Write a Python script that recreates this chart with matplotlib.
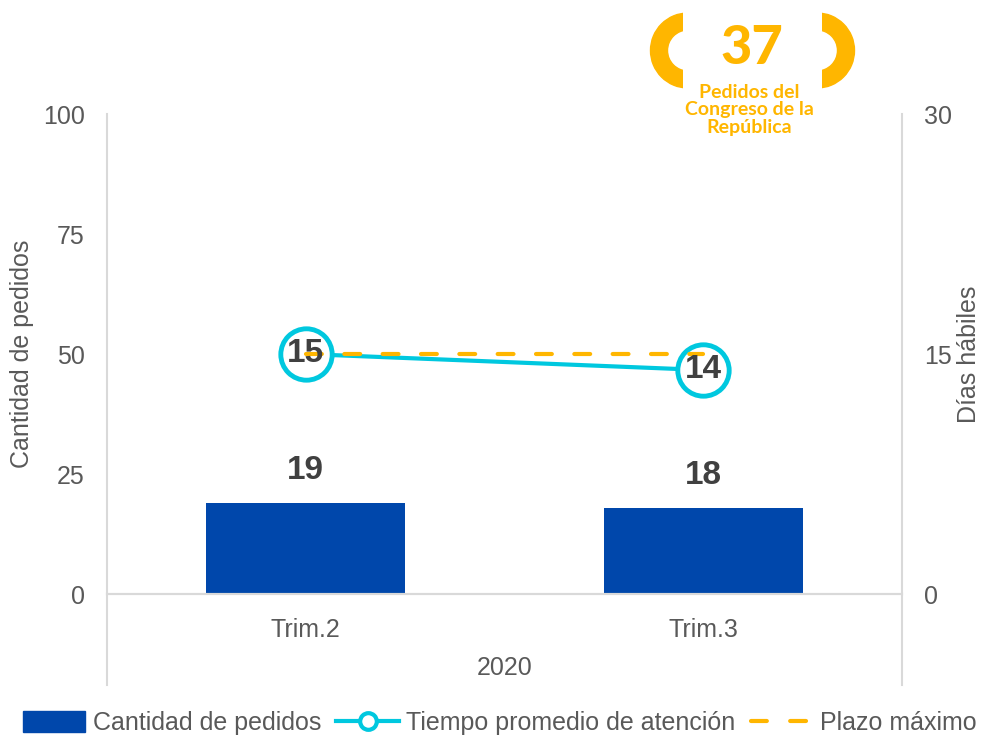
import matplotlib
matplotlib.use("Agg")
import matplotlib.pyplot as plt
from matplotlib.patches import Wedge, Rectangle, Patch
from matplotlib.lines import Line2D

plt.rcParams['font.family'] = ['Liberation Sans', 'DejaVu Sans']

categories = ["Trim.2", "Trim.3"]
year_label = "2020"
pedidos = [19, 18]
tiempo_promedio = [15, 14]
plazo_maximo = [15, 15]
total_pedidos = "37"
badge_text = "Pedidos del\nCongreso de la\nRepública"

BLUE = "#0047AB"
CYAN = "#00C8DF"
YELLOW = "#FFB600"
GRAY = "#595959"
DARK = "#404040"
AXIS = "#D9D9D9"
FS = 18

W, H = 982, 736
fig = plt.figure(figsize=(W / 100, H / 100), dpi=100)
ax = fig.add_axes([107 / W, 1 - 594 / H, (902 - 107) / W, (594 - 114) / H])
ax2 = ax.twinx()

x = list(range(len(categories)))
ax.bar(x, pedidos, width=0.5, color=BLUE, zorder=2)
ax.set_xlim(-0.5, len(categories) - 0.5)
ax.set_ylim(0, 100)
ax.set_yticks([0, 25, 50, 75, 100])
ax2.set_ylim(0, 30)
ax2.set_yticks([0, 15, 30])

for a in (ax, ax2):
    for s in ("top", "left", "right"):
        a.spines[s].set_visible(False)
    a.spines["bottom"].set_color(AXIS)
    a.spines["bottom"].set_linewidth(1.5)
    a.tick_params(axis="y", length=0, labelsize=FS, labelcolor=GRAY, pad=16)
    a.tick_params(axis="x", length=0)

ax.set_xticks(x)
ax.set_xticklabels(categories, fontsize=FS, color=GRAY)
ax.tick_params(axis="x", pad=17)

# category frame lines (extend below axis)
for xx in (0, 1):
    ax.plot([xx, xx], [-0.19, 1.0], transform=ax.transAxes, color=AXIS,
            lw=1.5, clip_on=False, zorder=1)
ax.text(0.5, (594 - 668) / 480, year_label, transform=ax.transAxes,
        ha="center", va="center", fontsize=FS, color=GRAY)

fig.text(22 / W, 1 - 354 / H, "Cantidad de pedidos", rotation=90,
         ha="center", va="center", fontsize=FS, color=GRAY)
fig.text(969 / W, 1 - 354 / H, "Días hábiles", rotation=90,
         ha="center", va="center", fontsize=FS, color=GRAY)

# lines on secondary axis
ax2.plot(x, tiempo_promedio, color=CYAN, lw=3, marker="o", markersize=37,
         markerfacecolor="white", markeredgecolor=CYAN, markeredgewidth=3.5,
         zorder=3)
ax2.plot(x, plazo_maximo, color=YELLOW, lw=3, linestyle=(0, (3.8, 5.4)),
         dash_capstyle="round", zorder=4)

for xi, v in zip(x, pedidos):
    ax.text(xi, v + 6.7, str(v), ha="center", va="center", fontsize=24,
            fontweight="bold", color=DARK, zorder=5)
for xi, v in zip(x, tiempo_promedio):
    ax2.text(xi, v, str(v), ha="center", va="center", fontsize=24,
             fontweight="bold", color=DARK, zorder=6)

# legend
handles = [
    Patch(facecolor=BLUE, edgecolor=BLUE),
    Line2D([0], [0], color=CYAN, lw=3, marker="o", markersize=12,
           markerfacecolor="white", markeredgecolor=CYAN, markeredgewidth=3),
    Line2D([0], [0], color=YELLOW, lw=3, linestyle=(0, (3.8, 5.6)),
           dash_capstyle="round"),
]
labels = ["Cantidad de pedidos", "Tiempo promedio de atención", "Plazo máximo"]
fig.legend(handles, labels, loc="center",
           bbox_to_anchor=(0.5 + 9 / W, 1 - 723 / H),
           ncol=3, frameon=False, fontsize=18, labelcolor=GRAY,
           handlelength=2.5, handleheight=0.95, handletextpad=0.3,
           columnspacing=0.6, borderaxespad=0)

# badge overlay in pixel coordinates
bx = fig.add_axes([0, 0, 1, 1], zorder=10)
bx.set_xlim(0, W)
bx.set_ylim(H, 0)
bx.axis("off")
bx.patch.set_alpha(0)
for cx, clip in ((688, (640, 683)), (817, (822, 870))):
    w = Wedge((cx, 50.5), 37.5, 0, 360, width=17, color=YELLOW)
    bx.add_patch(w)
    r = Rectangle((clip[0], 0), clip[1] - clip[0], 120, transform=bx.transData)
    w.set_clip_path(r)
bx.text(752, 48, total_pedidos, ha="center", va="center", fontsize=39,
        fontweight="black", color=YELLOW, family="Lato")
bx.text(749, 110, badge_text, ha="center", va="center", fontsize=14,
        fontweight="bold", color=YELLOW, family="Lato", linespacing=1.0)

fig.savefig("out.png", dpi=100)
